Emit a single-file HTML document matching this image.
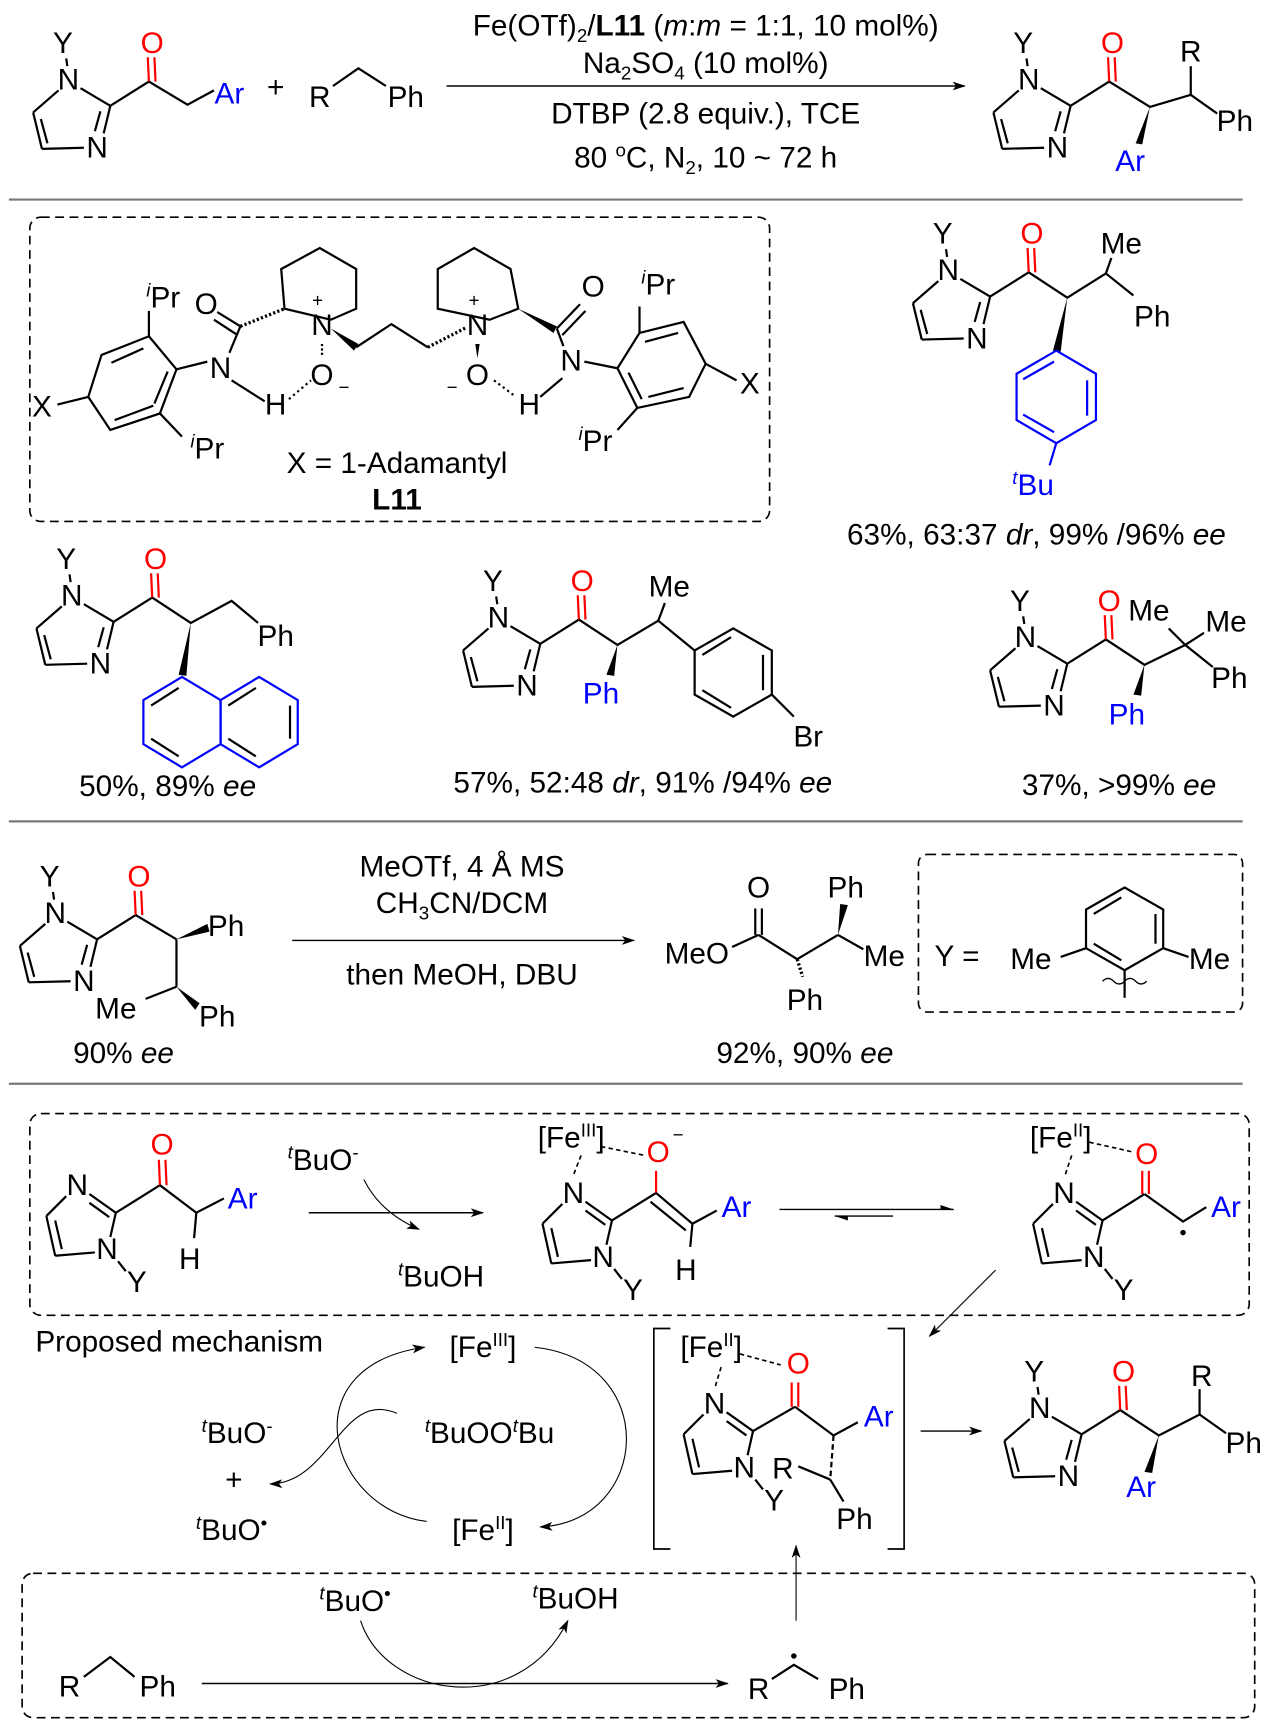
<!DOCTYPE html>
<html><head><meta charset="utf-8"><style>
html,body{margin:0;padding:0;background:#fff}
svg{display:block}
text{font-family:"Liberation Sans",Arial,sans-serif;font-size:27px;fill:#000}
.b{fill:#00f}.r{fill:#f00}
.sup{font-size:17px}
line,polyline,path.l{stroke:#000;stroke-width:2;fill:none}
</style></head><body>
<svg width="1268" height="1721" viewBox="0 0 1150 1561" xmlns="http://www.w3.org/2000/svg">
<defs>
<marker id="ah" markerWidth="12" markerHeight="8" refX="11" refY="4" orient="auto" markerUnits="userSpaceOnUse"><path d="M0,0 L12,4 L0,8 L3,4z" fill="#000"/></marker>
<g id="imA">
<text x="-5" y="-24" text-anchor="middle">Y</text>
<text x="0" y="9" text-anchor="middle">N</text>
<text x="26" y="71" text-anchor="middle">N</text>
<line x1="-2" y1="-19" x2="-1" y2="-12"/>
<line x1="-9" y1="10" x2="-32" y2="30"/>
<line x1="-32" y1="30" x2="-24" y2="63"/>
<line x1="-25" y1="36" x2="-19" y2="58"/>
<line x1="-24" y1="63" x2="14" y2="62"/>
<line x1="32" y1="49" x2="38" y2="24"/>
<line x1="24" y1="47" x2="29" y2="29"/>
<line x1="11" y1="8" x2="38" y2="24"/>
<line x1="38" y1="24" x2="73" y2="2"/>
<line x1="73" y1="2" x2="72" y2="-20" style="stroke:#f00"/>
<line x1="79" y1="2" x2="78" y2="-20" style="stroke:#f00"/>
<text x="76" y="-24" text-anchor="middle" class="r">O</text>
</g>
<g id="imB">
<text x="0" y="9" text-anchor="middle">N</text>
<text x="27" y="67" text-anchor="middle">N</text>
<text x="54" y="97" text-anchor="middle">Y</text>
<line x1="11" y1="8" x2="35" y2="25"/>
<line x1="11" y1="16" x2="29" y2="29"/>
<line x1="35" y1="25" x2="30" y2="47"/>
<line x1="16" y1="61" x2="-20" y2="64"/>
<line x1="-20" y1="64" x2="-28" y2="28"/>
<line x1="-14" y1="58" x2="-20" y2="32"/>
<line x1="-28" y1="28" x2="-10" y2="10"/>
<line x1="37" y1="69" x2="44" y2="78"/>
</g>
</defs>

<!-- Section 1 -->
<use href="#imA" x="62" y="72"/>
<polyline points="135,74 170,95 194,82"/>
<text x="208" y="94" text-anchor="middle" class="b">Ar</text>
<text x="250" y="88" text-anchor="middle">+</text>
<text x="290" y="97" text-anchor="middle">R</text>
<polyline points="302,78 325,62 350,78"/>
<text x="368" y="97" text-anchor="middle">Ph</text>
<line x1="405" y1="78" x2="875" y2="78" marker-end="url(#ah)" style="stroke-width:1.3"/>
<text x="640" y="32" text-anchor="middle">Fe(OTf)<tspan class="sup" dy="6">2</tspan><tspan dy="-6">/</tspan><tspan font-weight="bold">L11</tspan> (<tspan font-style="italic">m</tspan>:<tspan font-style="italic">m</tspan> = 1:1, 10 mol%)</text>
<text x="640" y="66" text-anchor="middle">Na<tspan class="sup" dy="6">2</tspan><tspan dy="-6">SO</tspan><tspan class="sup" dy="6">4</tspan><tspan dy="-6"> (10 mol%)</tspan></text>
<text x="640" y="112" text-anchor="middle">DTBP (2.8 equiv.), TCE</text>
<text x="640" y="152" text-anchor="middle">80 <tspan class="sup" dy="-10">o</tspan><tspan dy="10">C, N</tspan><tspan class="sup" dy="6">2</tspan><tspan dy="-6">, 10 ~ 72 h</tspan></text>
<use href="#imA" x="933" y="72"/>
<polyline points="1006,74 1043,97 1080,86 1104,103"/>
<line x1="1080" y1="86" x2="1080" y2="60"/>
<text x="1080" y="56" text-anchor="middle">R</text>
<text x="1120" y="119" text-anchor="middle">Ph</text>
<path d="M1043,97 L1030,130 L1036,131z" fill="#000"/>
<text x="1025" y="155" text-anchor="middle" class="b">Ar</text>
<line x1="8" y1="181" x2="1127" y2="181" style="stroke:#777;stroke-width:2"/>

<!-- Ligand box -->
<rect x="27" y="197" width="671" height="276" rx="10" fill="none" stroke="#000" stroke-width="1.5" stroke-dasharray="8,5"/>
<polygon points="135,305 160,335 145,375 100,390 80,360 92,322" fill="none" stroke="#000" stroke-width="2"/>
<line x1="101" y1="329" x2="130" y2="316"/><line x1="104" y1="381" x2="139" y2="368"/><line x1="152" y1="337" x2="140" y2="366"/>
<line x1="80" y1="360" x2="52" y2="367"/>
<text x="38" y="378" text-anchor="middle">X</text>
<line x1="135" y1="305" x2="135" y2="282"/>
<text x="148" y="279" text-anchor="middle"><tspan class="sup" font-style="italic" dy="-10">i</tspan><tspan dy="10">Pr</tspan></text>
<line x1="145" y1="375" x2="165" y2="396"/>
<text x="188" y="416" text-anchor="middle"><tspan class="sup" font-style="italic" dy="-10">i</tspan><tspan dy="10">Pr</tspan></text>
<line x1="160" y1="335" x2="188" y2="328"/>
<text x="200" y="343" text-anchor="middle">N</text>
<line x1="208" y1="320" x2="218" y2="296"/>
<line x1="218" y1="296" x2="197" y2="283"/><line x1="214" y1="303" x2="194" y2="290"/>
<text x="187" y="285" text-anchor="middle">O</text>
<line x1="210" y1="345" x2="240" y2="364"/>
<text x="250" y="376" text-anchor="middle">H</text>
<line x1="262" y1="362" x2="282" y2="345" style="stroke-dasharray:2,3"/>
<line x1="218" y1="296" x2="258" y2="280" style="stroke-dasharray:2,2;stroke-width:3"/>
<polygon points="258,280 255,244 290,225 323,244 323,280 300,290" fill="none" stroke="#000" stroke-width="2"/>
<text x="292" y="304" text-anchor="middle">N</text>
<text x="288" y="278" text-anchor="middle" class="sup">+</text>
<text x="292" y="349" text-anchor="middle">O</text>
<line x1="292" y1="312" x2="292" y2="322" style="stroke-dasharray:2,2"/>
<text x="307" y="357" class="sup">−</text>
<path d="M300,298 L325,312 L321,318z" fill="#000"/>
<polyline points="323,315 355,294 388,315"/>
<line x1="388" y1="315" x2="423" y2="297" style="stroke-dasharray:2,2;stroke-width:3"/>
<polygon points="397,280 397,244 430,225 463,244 470,280 444,290" fill="none" stroke="#000" stroke-width="2"/>
<text x="433" y="304" text-anchor="middle">N</text>
<text x="430" y="278" text-anchor="middle" class="sup">+</text>
<path d="M431,312 L435,312 L433,325z" fill="#000"/>
<text x="433" y="349" text-anchor="middle">O</text>
<text x="405" y="357" class="sup">−</text>
<line x1="448" y1="345" x2="468" y2="360" style="stroke-dasharray:2,3"/>
<text x="480" y="376" text-anchor="middle">H</text>
<path d="M470,280 L505,296 L502,302z" fill="#000"/>
<line x1="505" y1="298" x2="526" y2="276"/><line x1="510" y1="304" x2="531" y2="282"/>
<text x="538" y="269" text-anchor="middle">O</text>
<line x1="505" y1="298" x2="511" y2="314"/>
<text x="518" y="336" text-anchor="middle">N</text>
<line x1="510" y1="343" x2="490" y2="360"/>
<line x1="530" y1="328" x2="560" y2="334"/>
<polygon points="560,334 580,302 620,292 640,330 625,360 578,370" fill="none" stroke="#000" stroke-width="2"/>
<line x1="585" y1="310" x2="615" y2="302"/><line x1="588" y1="360" x2="620" y2="352"/><line x1="570" y1="338" x2="582" y2="362"/>
<line x1="640" y1="330" x2="668" y2="345"/>
<text x="680" y="357" text-anchor="middle">X</text>
<line x1="580" y1="302" x2="580" y2="278"/>
<text x="597" y="267" text-anchor="middle"><tspan class="sup" font-style="italic" dy="-10">i</tspan><tspan dy="10">Pr</tspan></text>
<line x1="578" y1="370" x2="560" y2="390"/>
<text x="540" y="409" text-anchor="middle"><tspan class="sup" font-style="italic" dy="-10">i</tspan><tspan dy="10">Pr</tspan></text>
<text x="360" y="429" text-anchor="middle">X = 1-Adamantyl</text>
<text x="360" y="462" text-anchor="middle" font-weight="bold">L11</text>

<!-- tBu compound -->
<use href="#imA" x="860" y="245"/>
<polyline points="933,247 968,270 1003,248 1028,268"/>
<line x1="1003" y1="248" x2="1008" y2="234"/>
<text x="1017" y="230" text-anchor="middle">Me</text>
<text x="1045" y="296" text-anchor="middle">Ph</text>
<path d="M968,270 L955,318 L962,319z" fill="#000"/>
<polygon points="958,318 994,339 994,381 958,402 922,381 922,339" fill="none" stroke="#00f" stroke-width="2"/>
<line x1="986" y1="345" x2="986" y2="377" style="stroke:#00f"/><line x1="928" y1="376" x2="956" y2="392" style="stroke:#00f"/><line x1="928" y1="344" x2="956" y2="328" style="stroke:#00f"/>
<line x1="958" y1="402" x2="952" y2="422" style="stroke:#00f"/>
<text x="937" y="449" text-anchor="middle" class="b"><tspan class="sup" font-style="italic" dy="-10">t</tspan><tspan dy="10">Bu</tspan></text>
<text x="940" y="494" text-anchor="middle">63%, 63:37 <tspan font-style="italic">dr</tspan>, 99% /96% <tspan font-style="italic">ee</tspan></text>

<!-- naphthyl -->
<use href="#imA" x="65" y="540"/>
<polyline points="138,542 173,565 210,545 234,565"/>
<text x="250" y="586" text-anchor="middle">Ph</text>
<path d="M173,565 L162,612 L169,613z" fill="#000"/>
<g stroke="#00f" stroke-width="2" fill="none">
<polygon points="165,614 200,635 200,675 165,696 130,675 130,635"/>
<polygon points="235,614 270,635 270,675 235,696 200,675 200,635"/>
<line x1="137" y1="640" x2="162" y2="624"/><line x1="137" y1="670" x2="162" y2="686"/>
<line x1="207" y1="640" x2="232" y2="624"/><line x1="263" y1="640" x2="263" y2="670"/><line x1="207" y1="670" x2="232" y2="686"/>
</g>
<text x="152" y="722" text-anchor="middle">50%, 89% <tspan font-style="italic">ee</tspan></text>

<!-- middle -->
<use href="#imA" x="452" y="560"/>
<polyline points="525,562 560,585 597,563 630,590"/>
<line x1="597" y1="563" x2="603" y2="547"/>
<text x="607" y="541" text-anchor="middle">Me</text>
<path d="M560,585 L550,612 L557,613z" fill="#000"/>
<text x="545" y="638" text-anchor="middle" class="b">Ph</text>
<polygon points="630,590 665,570 700,590 700,630 665,650 630,630" fill="none" stroke="#000" stroke-width="2"/>
<line x1="637" y1="594" x2="663" y2="578"/><line x1="692" y1="594" x2="692" y2="626"/><line x1="637" y1="626" x2="663" y2="642"/>
<line x1="700" y1="630" x2="720" y2="650"/>
<text x="733" y="677" text-anchor="middle">Br</text>
<text x="583" y="719" text-anchor="middle">57%, 52:48 <tspan font-style="italic">dr</tspan>, 91% /94% <tspan font-style="italic">ee</tspan></text>

<!-- right -->
<use href="#imA" x="930" y="578"/>
<polyline points="1003,580 1038,603 1075,585 1100,605"/>
<line x1="1075" y1="585" x2="1060" y2="570"/><line x1="1075" y1="585" x2="1092" y2="574"/>
<text x="1042" y="563" text-anchor="middle">Me</text>
<text x="1112" y="573" text-anchor="middle">Me</text>
<text x="1115" y="624" text-anchor="middle">Ph</text>
<path d="M1038,603 L1028,630 L1035,631z" fill="#000"/>
<text x="1022" y="657" text-anchor="middle" class="b">Ph</text>
<text x="1015" y="721" text-anchor="middle">37%, &gt;99% <tspan font-style="italic">ee</tspan></text>
<line x1="8" y1="745" x2="1127" y2="745" style="stroke:#777;stroke-width:2"/>

<!-- Section 3 -->
<use href="#imA" x="50" y="828"/>
<line x1="123" y1="830" x2="160" y2="852"/>
<path d="M160,852 L188,838 L190,845z" fill="#000"/>
<text x="205" y="849" text-anchor="middle">Ph</text>
<line x1="160" y1="852" x2="160" y2="895"/>
<line x1="160" y1="895" x2="132" y2="906"/>
<text x="105" y="924" text-anchor="middle">Me</text>
<path d="M160,895 L181,910 L177,916z" fill="#000"/>
<text x="197" y="931" text-anchor="middle">Ph</text>
<text x="112" y="964" text-anchor="middle">90% <tspan font-style="italic">ee</tspan></text>
<line x1="265" y1="853" x2="575" y2="853" marker-end="url(#ah)" style="stroke-width:1.3"/>
<text x="419" y="795" text-anchor="middle">MeOTf, 4 Å MS</text>
<text x="419" y="828" text-anchor="middle">CH<tspan class="sup" dy="6">3</tspan><tspan dy="-6">CN/DCM</tspan></text>
<text x="419" y="893" text-anchor="middle">then MeOH, DBU</text>
<text x="632" y="874" text-anchor="middle">MeO</text>
<line x1="664" y1="859" x2="688" y2="848"/>
<line x1="685" y1="848" x2="685" y2="824"/><line x1="691" y1="848" x2="691" y2="824"/>
<text x="688" y="814" text-anchor="middle">O</text>
<line x1="688" y1="848" x2="723" y2="870"/>
<line x1="723" y1="870" x2="728" y2="886" style="stroke-dasharray:2,2;stroke-width:3"/>
<text x="730" y="916" text-anchor="middle">Ph</text>
<line x1="723" y1="870" x2="760" y2="848"/>
<path d="M760,848 L762,820 L769,821z" fill="#000"/>
<text x="767" y="814" text-anchor="middle">Ph</text>
<line x1="760" y1="848" x2="783" y2="861"/>
<text x="802" y="876" text-anchor="middle">Me</text>
<text x="730" y="964" text-anchor="middle">92%, 90% <tspan font-style="italic">ee</tspan></text>
<rect x="833" y="775" width="294" height="143" rx="8" fill="none" stroke="#000" stroke-width="1.5" stroke-dasharray="8,5"/>
<text x="868" y="876" text-anchor="middle">Y =</text>
<polygon points="1020,805 1055,825 1055,860 1020,880 985,860 985,825" fill="none" stroke="#000" stroke-width="2"/>
<line x1="992" y1="829" x2="1017" y2="814"/><line x1="1048" y1="829" x2="1048" y2="856"/><line x1="992" y1="856" x2="1017" y2="871"/>
<line x1="985" y1="860" x2="962" y2="868"/><line x1="1055" y1="860" x2="1078" y2="868"/>
<text x="935" y="879" text-anchor="middle">Me</text>
<text x="1097" y="879" text-anchor="middle">Me</text>
<line x1="1020" y1="880" x2="1020" y2="905"/>
<path class="l" d="M1000,890 q5,-5 10,0 t10,0 t10,0 t10,0" style="stroke-width:1.2"/>
<line x1="8" y1="983" x2="1127" y2="983" style="stroke:#777;stroke-width:2"/>

<!-- Section 4 -->
<rect x="27" y="1010" width="1106" height="183" rx="10" fill="none" stroke="#000" stroke-width="1.5" stroke-dasharray="8,5"/>
<use href="#imB" x="70" y="1075"/>
<line x1="105" y1="1100" x2="145" y2="1075"/>
<line x1="145" y1="1075" x2="144" y2="1052" style="stroke:#f00"/><line x1="151" y1="1075" x2="150" y2="1052" style="stroke:#f00"/>
<text x="147" y="1047" text-anchor="middle" class="r">O</text>
<polyline points="145,1075 178,1100 203,1087"/>
<line x1="178" y1="1100" x2="176" y2="1123"/>
<text x="220" y="1096" text-anchor="middle" class="b">Ar</text>
<text x="172" y="1151" text-anchor="middle">H</text>
<line x1="280" y1="1100" x2="438" y2="1100" marker-end="url(#ah)" style="stroke-width:1.3"/>
<text x="293" y="1061" text-anchor="middle"><tspan class="sup" font-style="italic" dy="-10">t</tspan><tspan dy="10">BuO</tspan><tspan class="sup" dy="-10">-</tspan></text>
<path class="l" d="M330,1070 Q345,1100 380,1115" style="stroke-width:1" marker-end="url(#ah)"/>
<text x="400" y="1167" text-anchor="middle"><tspan class="sup" font-style="italic" dy="-10">t</tspan><tspan dy="10">BuOH</tspan></text>

<use href="#imB" x="520" y="1082"/>
<line x1="555" y1="1107" x2="595" y2="1082"/>
<line x1="595" y1="1082" x2="595" y2="1062" style="stroke:#f00"/>
<text x="597" y="1054" text-anchor="middle" class="r">O</text>
<text x="610" y="1035" class="sup">−</text>
<line x1="595" y1="1082" x2="628" y2="1110"/><line x1="590" y1="1090" x2="622" y2="1116"/>
<line x1="628" y1="1110" x2="650" y2="1098"/>
<line x1="628" y1="1110" x2="626" y2="1131"/>
<text x="668" y="1104" text-anchor="middle" class="b">Ar</text>
<text x="622" y="1161" text-anchor="middle">H</text>
<text x="518" y="1041" text-anchor="middle">[Fe<tspan class="sup" dy="-10">III</tspan><tspan dy="10">]</tspan></text>
<line x1="545" y1="1040" x2="585" y2="1048" style="stroke-dasharray:4,3;stroke-width:1.5"/>
<line x1="527" y1="1048" x2="520" y2="1066" style="stroke-dasharray:4,3;stroke-width:1.5"/>
<line x1="707" y1="1097" x2="865" y2="1097" style="stroke-width:1.3"/>
<path d="M853,1093 L865,1097 L853,1097z" fill="#000"/>
<line x1="757" y1="1103" x2="810" y2="1103" style="stroke-width:1.3"/>
<path d="M769,1107 L757,1103 L769,1103z" fill="#000"/>

<use href="#imB" x="965" y="1082"/>
<line x1="1000" y1="1107" x2="1038" y2="1083"/>
<line x1="1036" y1="1083" x2="1036" y2="1062" style="stroke:#f00"/><line x1="1042" y1="1083" x2="1042" y2="1062" style="stroke:#f00"/>
<text x="1040" y="1056" text-anchor="middle" class="r">O</text>
<polyline points="1038,1083 1073,1108 1094,1095"/>
<circle cx="1073" cy="1118" r="2.5" fill="#000"/>
<text x="1112" y="1104" text-anchor="middle" class="b">Ar</text>
<text x="962" y="1041" text-anchor="middle">[Fe<tspan class="sup" dy="-10">II</tspan><tspan dy="10">]</tspan></text>
<line x1="988" y1="1036" x2="1028" y2="1045" style="stroke-dasharray:4,3;stroke-width:1.5"/>
<line x1="972" y1="1048" x2="966" y2="1066" style="stroke-dasharray:4,3;stroke-width:1.5"/>
<line x1="903" y1="1152" x2="843" y2="1212" marker-end="url(#ah)" style="stroke-width:1"/>

<text x="32" y="1226">Proposed mechanism</text>
<text x="438" y="1231" text-anchor="middle">[Fe<tspan class="sup" dy="-10">III</tspan><tspan dy="10">]</tspan></text>
<text x="438" y="1397" text-anchor="middle">[Fe<tspan class="sup" dy="-10">II</tspan><tspan dy="10">]</tspan></text>
<text x="444" y="1309" text-anchor="middle"><tspan class="sup" font-style="italic" dy="-10">t</tspan><tspan dy="10">BuOO</tspan><tspan class="sup" font-style="italic" dy="-10">t</tspan><tspan dy="10">Bu</tspan></text>
<text x="215" y="1309" text-anchor="middle"><tspan class="sup" font-style="italic" dy="-10">t</tspan><tspan dy="10">BuO</tspan><tspan class="sup" dy="-10">-</tspan></text>
<text x="212" y="1351" text-anchor="middle">+</text>
<text x="210" y="1397" text-anchor="middle"><tspan class="sup" font-style="italic" dy="-10">t</tspan><tspan dy="10">BuO</tspan><tspan class="sup" dy="-10">•</tspan></text>
<path class="l" d="M387,1380 C300,1370 260,1240 385,1222" style="stroke-width:1" marker-end="url(#ah)"/>
<path class="l" d="M485,1222 C600,1235 590,1380 490,1385" style="stroke-width:1" marker-end="url(#ah)"/>
<path class="l" d="M360,1282 C310,1260 300,1345 245,1346" style="stroke-width:1" marker-end="url(#ah)"/>

<polyline points="608,1205 593,1205 593,1405 608,1405" style="stroke-width:1.5"/>
<polyline points="805,1205 820,1205 820,1405 805,1405" style="stroke-width:1.5"/>
<text x="645" y="1231" text-anchor="middle">[Fe<tspan class="sup" dy="-10">II</tspan><tspan dy="10">]</tspan></text>
<line x1="671" y1="1228" x2="708" y2="1238" style="stroke-dasharray:4,3;stroke-width:1.5"/>
<line x1="654" y1="1240" x2="648" y2="1260" style="stroke-dasharray:4,3;stroke-width:1.5"/>
<use href="#imB" x="648" y="1273"/>
<line x1="683" y1="1298" x2="721" y2="1276"/>
<line x1="718" y1="1276" x2="718" y2="1254" style="stroke:#f00"/><line x1="724" y1="1276" x2="724" y2="1254" style="stroke:#f00"/>
<text x="724" y="1246" text-anchor="middle" class="r">O</text>
<polyline points="721,1276 756,1302 778,1290"/>
<text x="797" y="1294" text-anchor="middle" class="b">Ar</text>
<line x1="756" y1="1302" x2="753" y2="1342" style="stroke-dasharray:5,3"/>
<line x1="724" y1="1330" x2="753" y2="1342"/>
<text x="710" y="1341" text-anchor="middle">R</text>
<line x1="753" y1="1342" x2="765" y2="1362"/>
<text x="775" y="1387" text-anchor="middle">Ph</text>
<line x1="835" y1="1298" x2="890" y2="1298" marker-end="url(#ah)" style="stroke-width:1.3"/>
<use href="#imA" x="943" y="1277"/>
<polyline points="1016,1279 1051,1302 1088,1283 1112,1300"/>
<line x1="1088" y1="1283" x2="1088" y2="1260"/>
<text x="1090" y="1257" text-anchor="middle">R</text>
<text x="1128" y="1318" text-anchor="middle">Ph</text>
<path d="M1051,1302 L1038,1335 L1045,1336z" fill="#000"/>
<text x="1035" y="1358" text-anchor="middle" class="b">Ar</text>
<line x1="722" y1="1470" x2="722" y2="1402" marker-end="url(#ah)" style="stroke-width:1"/>

<rect x="20" y="1427" width="1118" height="131" rx="10" fill="none" stroke="#000" stroke-width="1.5" stroke-dasharray="8,5"/>
<text x="322" y="1461" text-anchor="middle"><tspan class="sup" font-style="italic" dy="-10">t</tspan><tspan dy="10">BuO</tspan><tspan class="sup" dy="-10">•</tspan></text>
<text x="522" y="1459" text-anchor="middle"><tspan class="sup" font-style="italic" dy="-10">t</tspan><tspan dy="10">BuOH</tspan></text>
<path class="l" d="M327,1470 C350,1540 470,1560 515,1470" style="stroke-width:1" marker-end="url(#ah)"/>
<text x="63" y="1539" text-anchor="middle">R</text>
<polyline points="76,1521 100,1503 122,1521"/>
<text x="143" y="1539" text-anchor="middle">Ph</text>
<line x1="183" y1="1527" x2="660" y2="1527" marker-end="url(#ah)" style="stroke-width:1.3"/>
<text x="688" y="1541" text-anchor="middle">R</text>
<polyline points="700,1523 720,1510 742,1523"/>
<circle cx="720" cy="1502" r="2.5" fill="#000"/>
<text x="768" y="1541" text-anchor="middle">Ph</text>
</svg>
</body></html>
